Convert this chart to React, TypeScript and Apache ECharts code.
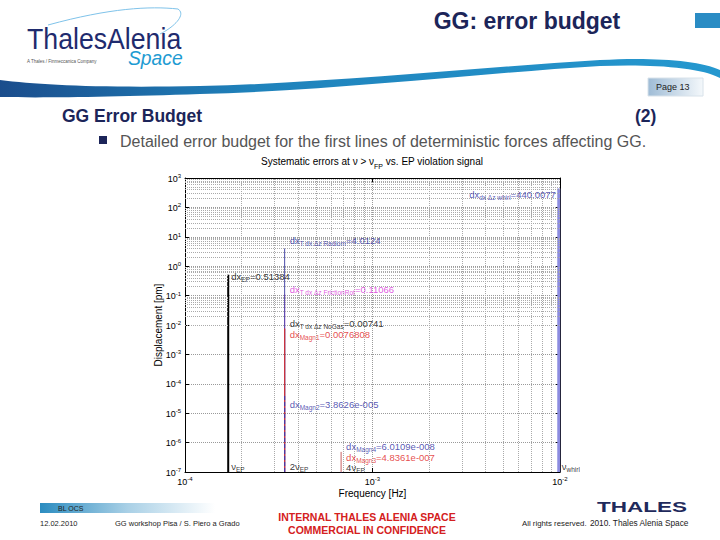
import React, { useEffect, useRef } from 'react';
import * as echarts from 'echarts';

// ---------- data ----------
const X_MIN = 1e-4;
const X_MAX = 1e-2;
const Y_MIN = 1e-7;
const Y_MAX = 1e3;

// error terms (in drawing order)
const termSubs = ['dx \u0394z whirl', 'T dx \u0394z FrictionRot', 'T dx \u0394z NoGas', 'T dx \u0394z Radiom', 'EP', 'Magn1', 'Magn2', 'Magn4', 'Magn3'];
const termValues = [440.0077, 0.11066, 0.00741, 4.0124, 0.51384, 0.0076808, 3.8626e-5, 6.0109e-8, 4.8361e-7];
const termFreqs = [9.85e-3, 3.4e-4, 3.4e-4, 3.4e-4, 1.7e-4, 3.4e-4, 3.4e-4, 6.8e-4, 6.8e-4];

// frequency markers
const freqPrefixes = ['', '2', '4', ''];
const freqSubs = ['EP', 'EP', 'EP', 'whirl'];
const freqValues = [1.7e-4, 3.4e-4, 6.8e-4, 9.85e-3];

// ---------- styles ----------
const FONT = 'Liberation Sans, Arial, sans-serif';
const NAVY = '#1c2559';
const BLUE_T = '#2d2d9f';
const termLineColors = ['#8c8ce0', '#e040e0', '#000000', '#4a4aa8', '#000000', '#e03030', '#3a3ab0', '#3a3ab0', '#c86060'];
const termLineWidths = [3, 1, 1, 1, 2, 1, 1, 1, 1];
const termLineTypes = ['solid', 'solid', 'solid', 'solid', 'solid', 'solid', 'dashed', 'solid', 'solid'];
const termTextColors = [BLUE_T, '#d82cd8', '#000000', BLUE_T, '#000000', '#e02020', BLUE_T, BLUE_T, '#e02020'];
const termLabelPos = ['left', 'right', 'right', 'right', 'right', 'right', 'right', 'right', 'right'];
const termLabelOffsets = [[-3, 6.5], [5, -5], [5, -5.5], [5, -7.5], [3, 2], [5, 6.6], [5, 8.5], [5, -26], [5, 5.5]];
const freqLabelOffsets = [[3, -6], [5, -6], [5, -5], [3, -6]];

// MATLAB num2str-like formatting
function num2str(v: number): string {
  const digits = Math.max(Math.ceil(Math.log10(Math.abs(v))), 1) + 4;
  const exp = Math.floor(Math.log10(Math.abs(v)));
  if (exp < -4 || exp >= digits) {
    const parts = v.toExponential(digits - 1).split('e');
    const mant = parts[0].includes('.') ? parts[0].replace(/\.?0+$/, '') : parts[0];
    const sign = parts[1][0] === '-' ? '-' : '+';
    const ev = String(Math.abs(parseInt(parts[1], 10))).padStart(3, '0');
    return `${mant}e${sign}${ev}`;
  }
  return String(parseFloat(v.toPrecision(digits)));
}

function richFor(color: string) {
  return {
    m: { fontSize: 9.5, fontFamily: FONT, color, lineHeight: 10, verticalAlign: 'top' },
    s: { fontSize: 6.5, fontFamily: FONT, color, lineHeight: 7, padding: [4.5, 0, 0, 0], verticalAlign: 'top' },
  };
}

// minor grid positions (2..9 x decade)
const minorX: number[] = [];
for (let k = -4; k < -2; k++) for (let m = 2; m <= 9; m++) minorX.push(m * Math.pow(10, k));
const minorY: number[] = [];
for (let k = -7; k < 3; k++) for (let m = 2; m <= 9; m++) minorY.push(m * Math.pow(10, k));

const swooshD =
  'M0,80 C40,85 100,88 200,86 C330,83 470,68 600,60 C650,57 700,60 720,70 L720,78 C700,67 650,64 600,66 C470,74 330,91 200,94 C110,97 40,98 0,97 Z';
echarts.graphic.registerShape('swoosh', echarts.graphic.extendPath(swooshD, {}) as any);

function tickFmt(v: number) {
  const e = Math.round(Math.log10(v));
  return `{b|10}{p|${e}}`;
}
const tickRich = {
  b: { fontSize: 9, fontFamily: FONT, color: '#000', lineHeight: 10, verticalAlign: 'bottom' },
  p: { fontSize: 6, fontFamily: FONT, color: '#000', lineHeight: 7, padding: [0, 0, 7, 0], verticalAlign: 'top' },
};

function buildOption(): any {
  const axisCommon = {
    type: 'log',
    logBase: 10,
    axisLine: { show: true, lineStyle: { color: '#000', width: 1 } },
    axisTick: { show: true, inside: true, length: 4, lineStyle: { color: '#000' } },
  };

  const series: any[] = [];

  // minor grid
  series.push({
    type: 'line',
    name: 'grid',
    data: [[X_MIN, Y_MIN]],
    showSymbol: false,
    symbol: 'none',
    lineStyle: { opacity: 0 },
    silent: true,
    z: 1,
    markLine: {
      silent: true,
      symbol: ['none', 'none'],
      label: { show: false },
      animation: false,
      lineStyle: { type: 'dotted', color: '#aaaaaa', width: 1 },
      data: [
        ...minorX.map((v) => [{ coord: [v, Y_MIN] }, { coord: [v, Y_MAX] }]),
        ...minorY.map((v) => ({ yAxis: v })),
      ],
    },
  });

  // stems
  termValues.forEach((v, i) => {
    series.push({
      type: 'line',
      name: termSubs[i],
      z: 3,
      showSymbol: false,
      symbol: 'none',
      clip: true,
      lineStyle: { color: termLineColors[i], width: termLineWidths[i], type: termLineTypes[i] },
      data: [
        [termFreqs[i], Y_MIN],
        [termFreqs[i], v],
      ],
    });
  });

  // annotations
  series.push({
    type: 'scatter',
    name: 'annotations',
    symbolSize: 0,
    clip: false,
    z: 5,
    silent: true,
    data: termValues.map((v, i) => ({
      value: [termFreqs[i], Math.max(v, Y_MIN)],
      label: {
        show: true,
        position: termLabelPos[i],
        distance: 0,
        offset: termLabelOffsets[i],
        formatter: `{m|dx}{s|${termSubs[i]}}{m|=${num2str(v)}}`,
        rich: richFor(termTextColors[i]),
      },
    })),
  });

  // frequency labels
  series.push({
    type: 'scatter',
    name: 'freqLabels',
    symbolSize: 0,
    clip: false,
    z: 5,
    silent: true,
    data: freqValues.map((f, i) => ({
      value: [f, Y_MIN],
      label: {
        show: true,
        position: 'right',
        distance: 0,
        offset: freqLabelOffsets[i],
        formatter: `{m|${freqPrefixes[i]}\u03bd}{s|${freqSubs[i]}}`,
        rich: richFor('#000'),
      },
    })),
  });

  const graphic: any[] = [
    // swoosh
    {
      type: 'swoosh',
      x: 0,
      y: 0,
      silent: true,
      style: {
        fill: {
          type: 'linear', x: 0, y: 0, x2: 1, y2: 0,
          colorStops: [
            { offset: 0, color: '#1b4d8c' },
            { offset: 0.35, color: '#1f82bb' },
            { offset: 1, color: '#2598cf' },
          ],
        },
      },
    },
    { type: 'bezierCurve', silent: true, shape: { x1: 48, y1: 25, x2: 178, y2: 9, cpx1: 110, cpy1: 8, cpx2: 150, cpy2: 6 }, style: { stroke: '#7fc3ea', lineWidth: 1, fill: null } },
    { type: 'bezierCurve', silent: true, shape: { x1: 178, y1: 9, x2: 160, y2: 34, cpx1: 186, cpy1: 14, cpx2: 176, cpy2: 26 }, style: { stroke: '#7fc3ea', lineWidth: 1, fill: null } },
    { type: 'text', silent: true, x: 27, y: 39, scaleX: 0.92, style: { text: 'ThalesAlenia', font: `29px ${FONT}`, fill: '#1f2b6e', verticalAlign: 'middle' } },
    { type: 'text', silent: true, x: 128, y: 58, scaleX: 0.92, style: { text: 'Space', font: `italic 21px ${FONT}`, fill: '#1e9bd2', verticalAlign: 'middle' } },
    { type: 'text', silent: true, x: 27, y: 61, style: { text: 'A Thales / Finmeccanica Company', font: `4.5px ${FONT}`, fill: '#555', verticalAlign: 'middle' } },
    // title
    { type: 'text', silent: true, x: 527, y: 21, style: { text: 'GG: error budget', font: `bold 23px ${FONT}`, fill: NAVY, align: 'center', verticalAlign: 'middle' } },
    { type: 'rect', silent: true, shape: { x: 695, y: 13, width: 25, height: 15 }, style: { fill: '#2a8cc4' } },
    // page box
    {
      type: 'rect', silent: true, shape: { x: 648, y: 78, width: 55, height: 18 },
      style: {
        fill: { type: 'linear', x: 0, y: 0, x2: 1, y2: 0, colorStops: [{ offset: 0, color: '#9fbcd6' }, { offset: 1, color: '#f4f8fb' }] },
        stroke: '#d8e2ea', lineWidth: 1,
      },
    },
    { type: 'text', silent: true, x: 656, y: 87, style: { text: 'Page 13', font: `9px ${FONT}`, fill: '#222', verticalAlign: 'middle' } },
    // section heading
    { type: 'text', silent: true, x: 62, y: 116, style: { text: 'GG Error Budget', font: `bold 17.5px ${FONT}`, fill: NAVY, verticalAlign: 'middle' } },
    { type: 'text', silent: true, x: 635, y: 116, style: { text: '(2)', font: `bold 17.5px ${FONT}`, fill: NAVY, verticalAlign: 'middle' } },
    { type: 'rect', silent: true, shape: { x: 99, y: 136, width: 8, height: 8 }, style: { fill: NAVY } },
    { type: 'text', silent: true, x: 120, y: 141, style: { text: 'Detailed error budget for the first lines of deterministic forces affecting GG.', font: `16px ${FONT}`, fill: '#555', verticalAlign: 'middle' } },
    // chart title
    {
      type: 'text', silent: true, x: 372, y: 162,
      style: {
        text: '{m|Systematic errors at \u03bd > \u03bd}{s|FP}{m| vs. EP violation signal}',
        align: 'center', verticalAlign: 'middle',
        rich: {
          m: { fontSize: 10, fontFamily: FONT, fill: '#000', lineHeight: 11, verticalAlign: 'top' },
          s: { fontSize: 7, fontFamily: FONT, fill: '#000', lineHeight: 8, padding: [6, 0, 0, 0], verticalAlign: 'top' },
        },
      },
    },
    // footer
    {
      type: 'rect', silent: true, shape: { x: 40, y: 503, width: 175, height: 10 },
      style: { fill: { type: 'linear', x: 0, y: 0, x2: 1, y2: 0, colorStops: [{ offset: 0, color: '#2b8cc0' }, { offset: 0.5, color: '#a9d0e6' }, { offset: 1, color: '#ffffff' }] } },
    },
    { type: 'text', silent: true, x: 58, y: 508, style: { text: 'BL OCS', font: `7px ${FONT}`, fill: '#222', verticalAlign: 'middle' } },
    { type: 'text', silent: true, x: 40, y: 523, style: { text: '12.02.2010', font: `7.5px ${FONT}`, fill: '#222', verticalAlign: 'middle' } },
    { type: 'text', silent: true, x: 115, y: 523, style: { text: 'GG workshop Pisa / S. Piero a Grado', font: `7.5px ${FONT}`, fill: '#222', verticalAlign: 'middle' } },
    { type: 'text', silent: true, x: 367, y: 517, style: { text: 'INTERNAL THALES ALENIA SPACE', font: `bold 10.5px ${FONT}`, fill: '#d42020', align: 'center', verticalAlign: 'middle' } },
    { type: 'text', silent: true, x: 367, y: 530, style: { text: 'COMMERCIAL IN CONFIDENCE', font: `bold 10.5px ${FONT}`, fill: '#d42020', align: 'center', verticalAlign: 'middle' } },
    { type: 'text', silent: true, x: 597, y: 507, scaleX: 1.5, style: { text: 'THALES', font: `bold 15px ${FONT}`, fill: '#1f2a5c', verticalAlign: 'middle' } },
    { type: 'text', silent: true, x: 522, y: 523, style: { text: '{a|All rights reserved.} {b|2010. Thales Alenia Space}', verticalAlign: 'middle', rich: { a: { fontSize: 7.8, fontFamily: FONT, fill: '#222' }, b: { fontSize: 8.3, fontFamily: FONT, fill: '#222' } } } },
  ];

  return {
    animation: false,
    backgroundColor: '#ffffff',
    textStyle: { fontFamily: FONT },
    grid: { left: 185, right: 160, top: 178, bottom: 68, containLabel: false },
    xAxis: [
      {
        ...axisCommon,
        min: X_MIN, max: X_MAX, splitNumber: 2, interval: 1,
        position: 'bottom',
        name: 'Frequency [Hz]', nameLocation: 'middle', nameGap: 16, nameMoveOverlap: false,
        nameTextStyle: { fontSize: 10, fontFamily: FONT, color: '#000' },
        axisLabel: { show: true, margin: 4, formatter: tickFmt, rich: tickRich },
        splitLine: { show: true, lineStyle: { type: 'dotted', color: '#9a9a9a', width: 1 } },
      },
      {
        ...axisCommon,
        min: X_MIN, max: X_MAX, splitNumber: 2, interval: 1,
        position: 'top',
        axisLabel: { show: false },
        splitLine: { show: false },
      },
    ],
    yAxis: [
      {
        ...axisCommon,
        min: Y_MIN, max: Y_MAX, splitNumber: 10, interval: 1,
        position: 'left',
        name: 'Displacement [pm]', nameLocation: 'middle', nameGap: 22, nameMoveOverlap: false,
        nameTextStyle: { fontSize: 10, fontFamily: FONT, color: '#000' },
        axisLabel: { show: true, margin: 4, formatter: tickFmt, rich: tickRich },
        splitLine: { show: true, lineStyle: { type: 'dotted', color: '#9a9a9a', width: 1 } },
      },
      {
        ...axisCommon,
        min: Y_MIN, max: Y_MAX, splitNumber: 10, interval: 1,
        position: 'right',
        axisLabel: { show: false },
        splitLine: { show: false },
      },
    ],
    series,
    graphic,
  };
}

export default function App() {
  const ref = useRef<HTMLDivElement>(null);
  useEffect(() => {
    if (!ref.current) return;
    const chart = echarts.init(ref.current, null, { renderer: 'svg' });
    chart.setOption(buildOption());
    return () => chart.dispose();
  }, []);
  return <div ref={ref} style={{ position: 'absolute', left: 0, top: 0, width: 720, height: 540 }} />;
}
